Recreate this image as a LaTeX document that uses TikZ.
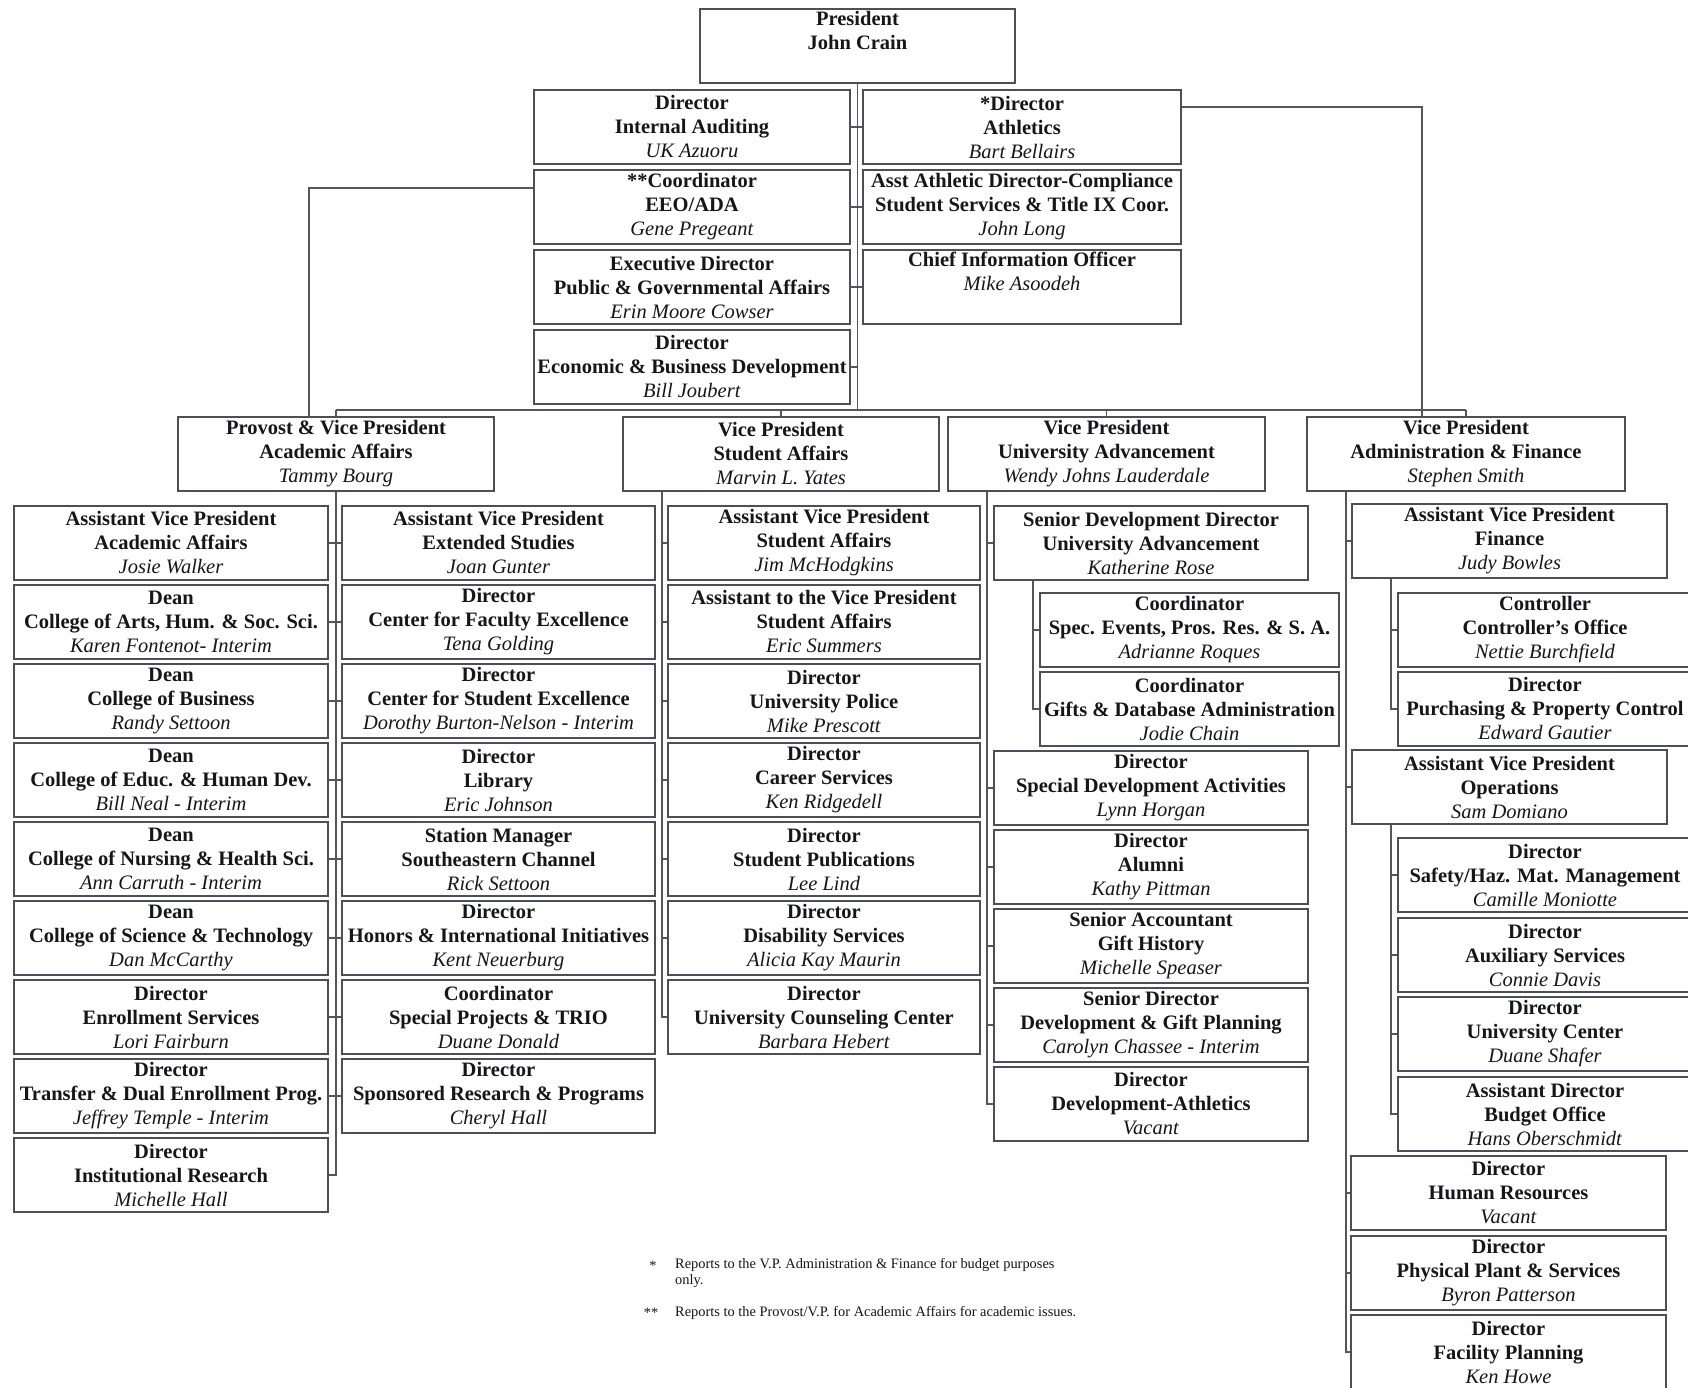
\documentclass[tikz,border=0pt]{standalone}
\usepackage{fontspec}
\setmainfont{Liberation Serif}
\definecolor{boxc}{RGB}{78,78,90}
\definecolor{linec}{RGB}{85,85,95}
\definecolor{txtc}{RGB}{22,22,26}
\tikzset{
  bx/.style={draw=boxc, line width=1.4pt, rectangle, inner sep=0pt, minimum height=74pt,
    align=center, text=txtc, font=\fontsize{20.5}{24}\selectfont},
  ln/.style={draw=linec, line width=1.2pt},
  fn/.style={text=txtc, font=\fontsize{14.4}{16.5}\selectfont, inner sep=0pt, align=left},
}
\newcommand\nm[1]{\textit{#1}}
\newcommand\ob[7]{\node[bx, minimum width=#3pt-#2pt] (#1) at ({(#2+#3)/2},{#4+37}) {\textbf{#5}\\\textbf{#6}\\\nm{#7}};}
\begin{document}
\begin{tikzpicture}[x=1pt,y=-1pt]
\useasboundingbox (0,0) rectangle (1688,1388);
\clip (0,0) rectangle (1688,1388);
\fill[white] (0,0) rectangle (1688,1388);

% President and staff
\node[bx, minimum width=315pt] (pres) at (857.5,46) {\textbf{President}\\\textbf{John Crain}\\\strut};
\ob{ia}{534}{850}{90}{Director}{Internal Auditing}{UK Azuoru}
\ob{eeo}{534}{850}{170}{**Coordinator}{EEO/ADA}{Gene Pregeant}
\ob{pga}{534}{850}{250}{Executive Director}{Public \& Governmental Affairs}{Erin Moore Cowser}
\ob{ebd}{534}{850}{330}{Director}{Economic \& Business Development}{Bill Joubert}
\ob{ath}{863}{1181}{90}{*Director}{Athletics}{Bart Bellairs}
\ob{aad}{863}{1181}{170}{Asst Athletic Director-Compliance}{Student Services \& Title IX Coor.}{John Long}
\node[bx, minimum width=318pt] (cio) at (1022,287) {\textbf{Chief Information Officer}\\\nm{Mike Asoodeh}\\\strut};

% Vice presidents
\ob{prov}{178}{494}{417}{Provost \& Vice President}{Academic Affairs}{Tammy Bourg}
\ob{sa}{623}{939}{417}{Vice President}{Student Affairs}{Marvin L. Yates}
\ob{ua}{948}{1265}{417}{Vice President}{University Advancement}{Wendy Johns Lauderdale}
\ob{af}{1307}{1625}{417}{Vice President}{Administration \& Finance}{Stephen Smith}

% Academic Affairs, left column
\ob{l1}{14}{328}{506}{Assistant Vice President}{Academic Affairs}{Josie Walker}
\ob{l2}{14}{328}{585}{Dean}{College of Arts, Hum. \& Soc. Sci.}{Karen Fontenot- Interim}
\ob{l3}{14}{328}{664}{Dean}{College of Business}{Randy Settoon}
\ob{l4}{14}{328}{743}{Dean}{College of Educ. \& Human Dev.}{Bill Neal - Interim}
\ob{l5}{14}{328}{822}{Dean}{College of Nursing \& Health Sci.}{Ann Carruth - Interim}
\ob{l6}{14}{328}{901}{Dean}{College of Science \& Technology}{Dan McCarthy}
\ob{l7}{14}{328}{980}{Director}{Enrollment Services}{Lori Fairburn}
\ob{l8}{14}{328}{1059}{Director}{Transfer \& Dual Enrollment Prog.}{Jeffrey Temple - Interim}
\ob{l9}{14}{328}{1138}{Director}{Institutional Research}{Michelle Hall}

% Academic Affairs, middle column
\ob{m1}{342}{655}{506}{Assistant Vice President}{Extended Studies}{Joan Gunter}
\ob{m2}{342}{655}{585}{Director}{Center for Faculty Excellence}{Tena Golding}
\ob{m3}{342}{655}{664}{Director}{Center for Student Excellence}{Dorothy Burton-Nelson - Interim}
\ob{m4}{342}{655}{743}{Director}{Library}{Eric Johnson}
\ob{m5}{342}{655}{822}{Station Manager}{Southeastern Channel}{Rick Settoon}
\ob{m6}{342}{655}{901}{Director}{Honors \& International Initiatives}{Kent Neuerburg}
\ob{m7}{342}{655}{980}{Coordinator}{Special Projects \& TRIO}{Duane Donald}
\ob{m8}{342}{655}{1059}{Director}{Sponsored Research \& Programs}{Cheryl Hall}

% Student Affairs
\ob{s1}{668}{980}{506}{Assistant Vice President}{Student Affairs}{Jim McHodgkins}
\ob{s2}{668}{980}{585}{Assistant to the Vice President}{Student Affairs}{Eric Summers}
\ob{s3}{668}{980}{664}{Director}{University Police}{Mike Prescott}
\ob{s4}{668}{980}{743}{Director}{Career Services}{Ken Ridgedell}
\ob{s5}{668}{980}{822}{Director}{Student Publications}{Lee Lind}
\ob{s6}{668}{980}{901}{Director}{Disability Services}{Alicia Kay Maurin}
\ob{s7}{668}{980}{980}{Director}{University Counseling Center}{Barbara Hebert}

% University Advancement
\ob{u1}{994}{1308}{506}{Senior Development Director}{University Advancement}{Katherine Rose}
\ob{u1a}{1040}{1339}{593}{Coordinator}{Spec. Events, Pros. Res. \& S. A.}{Adrianne Roques}
\ob{u1b}{1040}{1339}{672}{Coordinator}{Gifts \& Database Administration}{Jodie Chain}
\ob{u2}{994}{1308}{751}{Director}{Special Development Activities}{Lynn Horgan}
\ob{u3}{994}{1308}{830}{Director}{Alumni}{Kathy Pittman}
\ob{u4}{994}{1308}{909}{Senior Accountant}{Gift History}{Michelle Speaser}
\ob{u5}{994}{1308}{988}{Senior Director}{Development \& Gift Planning}{Carolyn Chassee - Interim}
\ob{u6}{994}{1308}{1067}{Director}{Development-Athletics}{Vacant}

% Administration & Finance
\ob{a1}{1352}{1667}{504}{Assistant Vice President}{Finance}{Judy Bowles}
\ob{a1a}{1398}{1692}{593}{Controller}{Controller's Office}{Nettie Burchfield}
\ob{a1b}{1398}{1692}{672}{Director}{Purchasing \& Property Control}{Edward Gautier}
\ob{a2}{1352}{1667}{750}{Assistant Vice President}{Operations}{Sam Domiano}
\ob{a2a}{1398}{1692}{838}{Director}{Safety/Haz. Mat. Management}{Camille Moniotte}
\ob{a2b}{1398}{1692}{918}{Director}{Auxiliary Services}{Connie Davis}
\ob{a2c}{1398}{1692}{997}{Director}{University Center}{Duane Shafer}
\ob{a2d}{1398}{1692}{1077}{Assistant Director}{Budget Office}{Hans Oberschmidt}
\ob{a3}{1351}{1666}{1156}{Director}{Human Resources}{Vacant}
\ob{a4}{1351}{1666}{1236}{Director}{Physical Plant \& Services}{Byron Patterson}
\ob{a5}{1351}{1666}{1315}{Director}{Facility Planning}{Ken Howe}

% Connectors: president, staff and bus
\coordinate (bus) at (857,410);
\draw[ln] (pres.south) -- (pres.south |- bus);
\draw[ln] (prov.north |- bus) -- (af.north |- bus);
\foreach \v in {prov,sa,ua,af} \draw[ln] (\v.north) -- (\v.north |- bus);
\foreach \v in {ia,eeo,pga,ebd} \draw[ln] (\v.east) -- (\v.east -| pres.south);
\foreach \v in {ath,aad,cio} \draw[ln] (\v.west) -- (\v.west -| pres.south);
\draw[ln] ([yshift=19pt]eeo.west) -| ([xshift=-27pt]prov.north);
\draw[ln] ([yshift=20pt]ath.east) -| ([xshift=-44pt]af.north);

% Academic Affairs
\foreach \c in {l1,l2,l3,l4,l5,l6,l7,l8,l9} \draw[ln] (prov.south) |- (\c.east);
\foreach \c in {m1,m2,m3,m4,m5,m6,m7,m8} \draw[ln] (prov.south) |- (\c.west);
% Student Affairs
\foreach \c in {s1,s2,s3,s4,s5,s6,s7} \draw[ln] ([xshift=-119pt]sa.south) |- (\c.west);
% University Advancement
\foreach \c in {u1,u2,u3,u4,u5,u6} \draw[ln] ([xshift=-119.5pt]ua.south) |- (\c.west);
\foreach \c in {u1a,u1b} \draw[ln] ([xshift=-118pt]u1.south) |- (\c.west);
% Administration & Finance
\foreach \c in {a1,a2,a3,a4,a5} \draw[ln] ([xshift=-120pt]af.south) |- (\c.west);
\foreach \c in {a1a,a1b} \draw[ln] ([xshift=-118.5pt]a1.south) |- (\c.west);
\foreach \c in {a2a,a2b,a2c,a2d} \draw[ln] ([xshift=-118.5pt]a2.south) |- (\c.west);

% Footnotes
\node[fn, anchor=north] (st1) at (653,1261) {*};
\node[fn, anchor=north west] (fn1) at (675,1258) {Reports to the V.P. Administration \& Finance for budget purposes\\only.};
\node[fn, anchor=north] (st2) at (651,1308) {**};
\node[fn, anchor=north west] (fn2) at (675,1306) {Reports to the Provost/V.P. for Academic Affairs for academic issues.};
\end{tikzpicture}
\end{document}
